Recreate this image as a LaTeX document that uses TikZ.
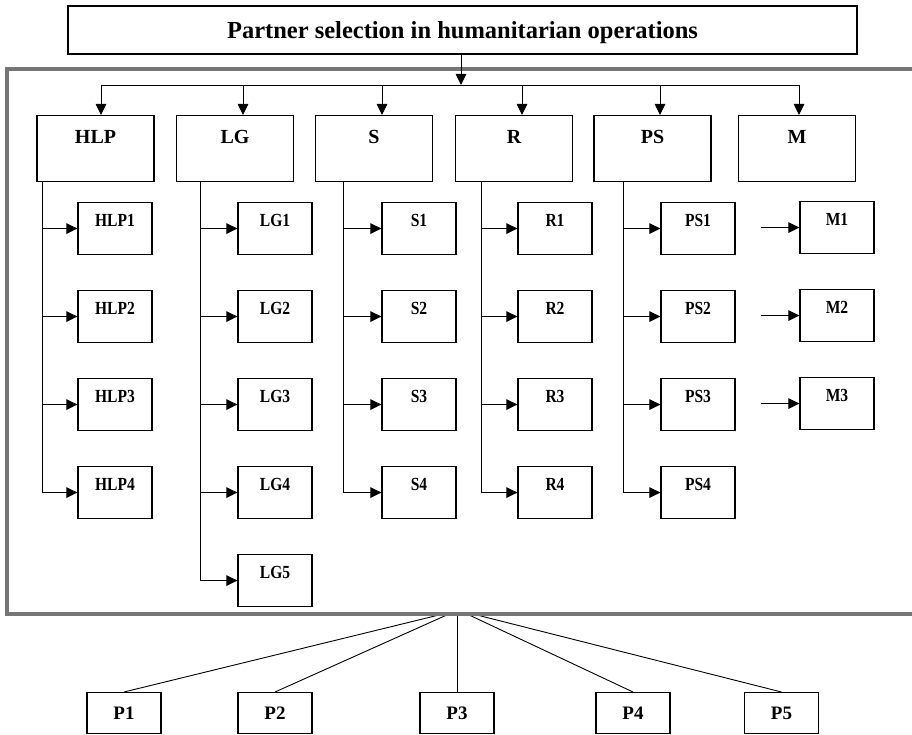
\documentclass[tikz,border=0pt]{standalone}
\usepackage{fontspec}
\setmainfont{Liberation Serif}
\newfontfamily\subfont[FakeStretch=0.84]{Liberation Serif}
\usetikzlibrary{arrows.meta,positioning}
\definecolor{framegray}{RGB}{118,118,118}

\begin{document}
\begin{tikzpicture}[x=1pt, y=-1pt,
    box/.style={draw, line width=1.1pt, inner sep=0pt},
    headbox/.style={box, minimum width=117pt, text height=28pt, text depth=38pt,
        font=\fontsize{20}{20}\selectfont\bfseries},
    subbox/.style={box, minimum width=74pt, text height=24pt, text depth=28pt,
        font=\subfont\fontsize{18.5}{18.5}\selectfont\bfseries},
    pbox/.style={box, minimum width=74pt, minimum height=41pt,
        font=\fontsize{19}{19}\selectfont\bfseries},
    arrow/.style={-{Triangle[length=11pt,width=10.5pt]}, line width=0.9pt}]
    \useasboundingbox (0,0) rectangle (912,735);

    % Title
    \node[box, minimum width=789pt, minimum height=48pt, text depth=0pt,
        font=\fontsize{24.5}{24.5}\selectfont\bfseries] (title) at (462.5,30)
        {Partner selection in humanitarian operations};

    % Partners below the frame
    \coordinate (hub) at (457,614);
    \foreach \i/\x/\d in {1/124/-14, 2/275/-8, 3/457/0, 4/633/10, 5/781.5/16} {
        \node[pbox, anchor=north] (P\i) at (\x,692) {P\i};
        \draw[line width=0.9pt] ([xshift=\d pt]hub) -- (P\i.north);
    }

    % Gray frame (open on the right)
    \draw[line width=4pt, framegray] (916,69) -- (7,69) -- (7,614) -- (916,614);

    % Criteria
    \foreach \n/\x in {HLP/95.5, LG/235, S/374, R/514, PS/652.5, M/797}
        \node[headbox, anchor=north] (\n) at (\x,115) {\n};

    \coordinate (bus) at (461,85);
    \coordinate (busL) at (101,85);
    \coordinate (busR) at (799,85);
    \draw[arrow] (title.south -| bus) -- (bus);
    \draw[line width=0.9pt] (busL) -- (busR);
    \foreach \n/\x in {HLP/101, LG/243, S/382, R/522, PS/660, M/799}
        \draw[arrow] (\x,85) -- (\x,85 |- \n.north);

    % Sub-criteria
    \foreach \n/\x/\t/\k in {HLP/115/42/4, LG/275/200/5, S/419/343/4, R/555/481/4, PS/698/623/4} {
        \foreach \i in {1,...,\k} {
            \pgfmathsetmacro{\y}{202+(\i-1)*88}
            \node[subbox, anchor=north] (\n\i) at (\x,\y) {\n\i};
            \draw[arrow] (\t,0 |- \n.south) |- (\n\i.west);
        }
    }

    \foreach \i in {1,2,3} {
        \pgfmathsetmacro{\y}{201+(\i-1)*88}
        \node[subbox, anchor=north] (M\i) at (837,\y) {M\i};
        \draw[arrow] ([xshift=-38pt]M\i.west) -- (M\i.west);
    }
\end{tikzpicture}
\end{document}
